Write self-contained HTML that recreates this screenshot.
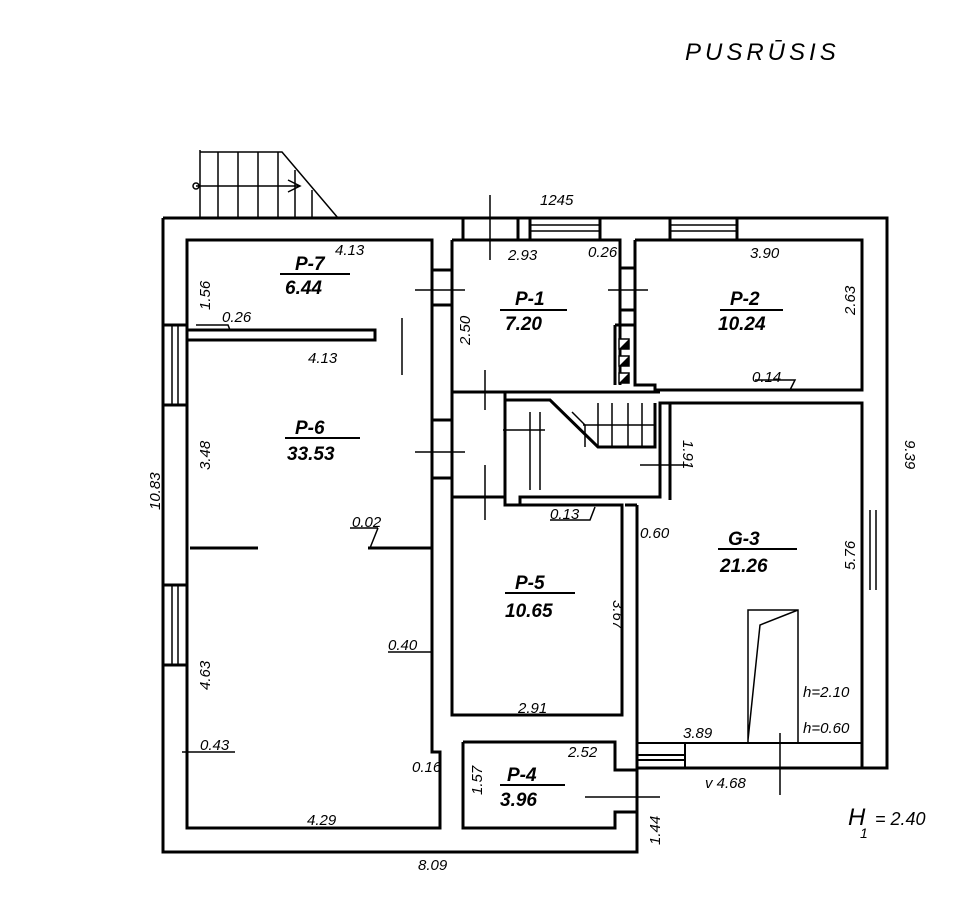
<!DOCTYPE html>
<html><head><meta charset="utf-8"><style>
html,body{margin:0;padding:0;background:#fff;}
svg{display:block}
text{font-family:"Liberation Sans",sans-serif;font-style:italic;fill:#000}
.t{font-size:15px}
.b{font-size:19px;font-weight:bold}
</style></head><body>
<svg width="954" height="900" viewBox="0 0 954 900" xmlns="http://www.w3.org/2000/svg">
<g fill="none" stroke="#000" stroke-width="3">
<path d="M163 218 H887 V768 H685 M637 768 V852 H163 V218"/>
<path d="M187 240 H432 V752 H440 V828 H187 Z"/>
<path d="M163 325 H187 M163 405 H187 M163 585 H187 M163 665 H187"/>
<path d="M172 325 V405 M178 325 V405 M172 585 V665 M178 585 V665" stroke-width="1.5"/>
<path d="M187 330 H375 V340 H187"/>
<path d="M452 240 V392 H505 M452 240 H620 V385 M452 392 V497 H505 M452 497 V505"/>
<path d="M432 270 H452 M432 305 H452 M432 420 H452 M432 478 H452"/>
<path d="M463 218 V240 M518 218 V240 M530 218 V240 M600 218 V240 M670 218 V240 M737 218 V240"/>
<path d="M530 225 H600 M530 231 H600 M670 225 H737 M670 231 H737" stroke-width="1.5"/>
<path d="M635 240 V385 H655 V390 H862 V240 H635 M620 240 V385 M615 325 V385 M615 325 H635"/>
<path d="M620 268 H635 M620 310 H635"/>
<path d="M505 392 V505 H520 V497 H660 V403 H670 V500 M505 400 H550 L598 447 H655 V403 M505 392 H660"/>
<path d="M530 412 V490 M540 412 V490" stroke-width="1.5"/>
<path d="M572 412 L585 425 V447 M598 447 V403 M612 403 V447 M628 403 V447 M642 403 V447 M598 425 H655" stroke-width="1.5"/>
<path d="M670 403 H862 V768 M637 505 V768 H685 M625 505 H637 M862 510 V590 M887 510 V590"/>
<path d="M870 510 V590 M876 510 V590" stroke-width="1.5"/>
<path d="M637 743 H862 M685 743 V768 M637 755 H685 M637 760 H685" stroke-width="2"/>
<path d="M452 505 V715 H622 V505 H520"/>
<path d="M463 742 H615 V770 H637 M463 742 V828 H615 V812 H637"/>
<path d="M190 548 H258 M368 548 H432" stroke-width="3"/>
<path d="M748 743 V610 H798 V743 M748 740 L760 625 L798 610" stroke-width="1.5"/>
</g>
<g fill="none" stroke="#000" stroke-width="1.5">
<path d="M200 150 V218 M200 152 H282 L338 218 M218 152 V218 M238 152 V218 M258 152 V218 M278 152 V218 M295 170 V218 M312 190 V218"/>
<path d="M196 186 H300 M288 180 L300 186 L288 192"/>
<circle cx="196" cy="186" r="3"/>
<path d="M490 195 V260 M415 290 H465 M402 318 V375 M608 290 H648 M485 370 V410 M415 452 H465 M485 465 V520 M640 465 H688 M780 733 V795 M585 797 H660 M503 430 H545 M583 425 L598 425"/>
<path d="M370 548 L378 528 M350 528 H378 M388 652 H432 M182 752 H235 M196 325 H228 L230 330 M755 380 H795 L790 390 M550 520 H590 L595 507"/>
</g>
<g stroke="#000" stroke-width="1.5" fill="#fff"><rect x="619" y="339" width="10" height="10"/><rect x="619" y="356" width="10" height="10"/><rect x="619" y="373" width="10" height="10"/></g>
<g fill="#000"><path d="M619 349 L629 339 V349Z M619 366 L629 356 V366Z M619 383 L629 373 V383Z"/></g>
<g stroke="#000" stroke-width="2">
<line x1="280" y1="274" x2="350" y2="274"/><line x1="500" y1="310" x2="567" y2="310"/>
<line x1="720" y1="310" x2="783" y2="310"/><line x1="285" y1="438" x2="360" y2="438"/>
<line x1="505" y1="593" x2="575" y2="593"/><line x1="718" y1="549" x2="797" y2="549"/>
<line x1="500" y1="785" x2="565" y2="785"/>
</g>
<text class="b" x="295" y="270">P-7</text><text class="b" x="285" y="294">6.44</text>
<text class="b" x="515" y="305">P-1</text><text class="b" x="505" y="330">7.20</text>
<text class="b" x="730" y="305">P-2</text><text class="b" x="718" y="330">10.24</text>
<text class="b" x="295" y="434">P-6</text><text class="b" x="287" y="460">33.53</text>
<text class="b" x="515" y="589">P-5</text><text class="b" x="505" y="617">10.65</text>
<text class="b" x="728" y="545">G-3</text><text class="b" x="720" y="572">21.26</text>
<text class="b" x="507" y="781">P-4</text><text class="b" x="500" y="806">3.96</text>
<g class="t">
<text x="540" y="205">1245</text>
<text x="335" y="255">4.13</text>
<text x="508" y="260">2.93</text>
<text x="588" y="257">0.26</text>
<text x="750" y="258">3.90</text>
<text x="222" y="322">0.26</text>
<text x="308" y="363">4.13</text>
<text x="752" y="382">0.14</text>
<text x="352" y="527">0.02</text>
<text x="550" y="519">0.13</text>
<text x="640" y="538">0.60</text>
<text x="388" y="650">0.40</text>
<text x="518" y="713">2.91</text>
<text x="200" y="750">0.43</text>
<text x="412" y="772">0.16</text>
<text x="568" y="757">2.52</text>
<text x="683" y="738">3.89</text>
<text x="803" y="697">h=2.10</text>
<text x="803" y="733">h=0.60</text>
<text x="705" y="788">v 4.68</text>
<text x="307" y="825">4.29</text>
<text x="418" y="870">8.09</text>
<text transform="translate(210,310) rotate(-90)">1.56</text>
<text transform="translate(470,345) rotate(-90)">2.50</text>
<text transform="translate(855,315) rotate(-90)">2.63</text>
<text transform="translate(210,470) rotate(-90)">3.48</text>
<text transform="translate(160,510) rotate(-90)">10.83</text>
<text transform="translate(683,440) rotate(90)">1.91</text>
<text transform="translate(905,440) rotate(90)">9.39</text>
<text transform="translate(855,570) rotate(-90)">5.76</text>
<text transform="translate(613,600) rotate(90)">3.67</text>
<text transform="translate(210,690) rotate(-90)">4.63</text>
<text transform="translate(482,795) rotate(-90)">1.57</text>
<text transform="translate(660,845) rotate(-90)">1.44</text>
</g>
<text x="685" y="60" style="font-size:24px;letter-spacing:4px">PUSRŪSIS</text>
<text x="848" y="825" style="font-size:24px">H</text>
<text x="860" y="838" style="font-size:14px">1</text>
<text x="875" y="825" style="font-size:18px">= 2.40</text>
</svg>
</body></html>
